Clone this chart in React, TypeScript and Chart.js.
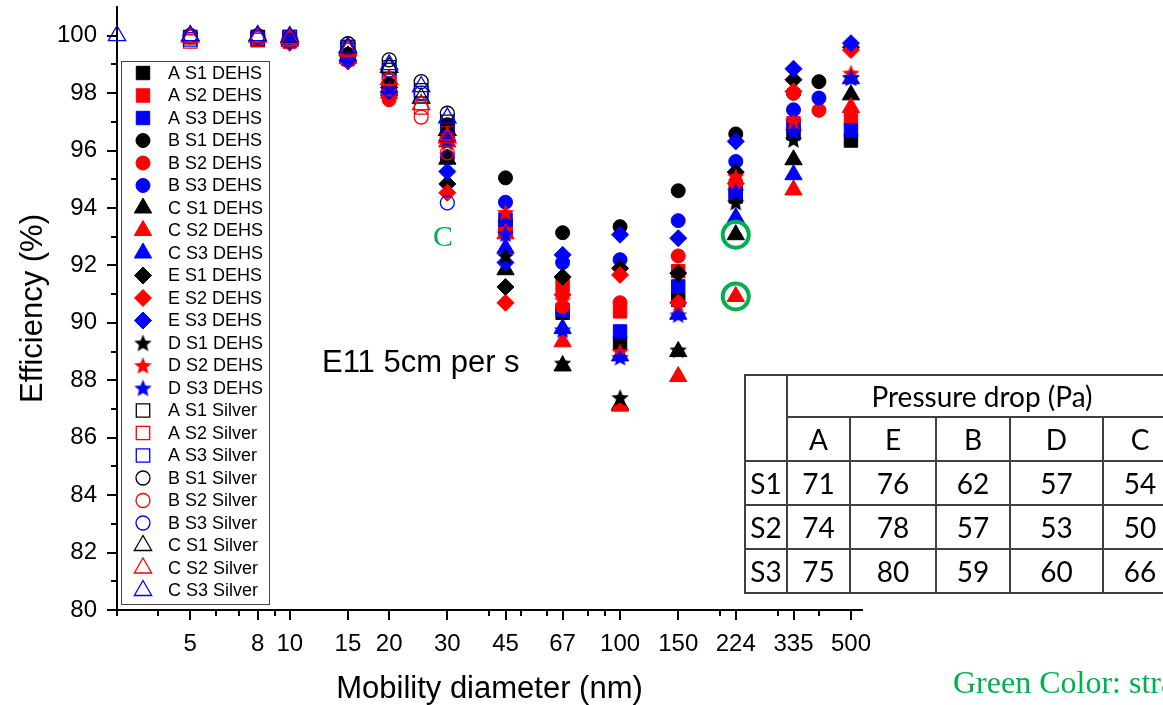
import React, { useEffect, useRef } from 'react';
import { Chart, registerables } from 'chart.js';
import { drawPoint } from 'chart.js/helpers';

Chart.register(...registerables);
Chart.defaults.font.family = "'Liberation Sans', Arial, sans-serif";

// ---- x categories (mobility diameter, nm) ----
const sizesDEHS = [10, 15, 20, 30, 45, 67, 100, 150, 224, 335, 500];
const sizesB = [10, 15, 20, 30, 45, 67, 100, 150, 224, 335, 400];
const sizesSilver = [3, 5, 8, 10, 15, 20, 25, 30];

// ---- DEHS series (efficiency %) ----
const aS1Dehs = [99.85, 99.3, 98.2, 96.6, 93.4, 90.35, 89.3, 90.8, 94.4, 96.6, 96.35];
const aS2Dehs = [99.8, 99.2, 98.1, 96.6, 93.2, 91.3, 90.4, 91.8, 94.6, 96.95, 97.1];
const aS3Dehs = [99.85, 99.25, 98.2, 96.8, 93.6, 90.45, 89.7, 91.27, 94.5, 96.85, 96.7];
const bS1Dehs = [99.85, 99.35, 98.3, 96.9, 95.05, 93.14, 93.35, 94.6, 96.58, 98.0, 98.4];
const bS2Dehs = [99.8, 99.2, 97.77, 95.8, 93.1, 90.56, 90.7, 92.33, 94.9, 98.0, 97.4];
const bS3Dehs = [99.85, 99.3, 98.1, 95.75, 94.2, 92.1, 92.2, 93.56, 95.62, 97.42, 97.83];
const cS1Dehs = [99.85, 99.3, 98.2, 95.7, 91.85, 88.5, 87.15, 89.0, 93.07, 95.68, 97.94];
const cS2Dehs = [99.8, 99.2, 98.0, 96.3, 93.1, 89.34, 87.1, 88.13, 90.92, 94.63, 97.5];
const cS3Dehs = [99.85, 99.25, 98.1, 96.5, 92.6, 89.8, 88.85, 90.3, 93.66, 95.16, 98.5];
const eS1Dehs = [99.85, 99.3, 98.2, 94.84, 91.25, 91.6, 91.9, 91.73, 95.25, 98.47, 99.6];
const eS2Dehs = [99.75, 99.1, 98.0, 94.53, 90.7, 90.98, 91.67, 90.7, 94.85, 98.06, 99.5];
const eS3Dehs = [99.8, 99.15, 98.06, 95.27, 92.1, 92.37, 93.07, 92.95, 96.32, 98.85, 99.74];
const dS1Dehs = [99.85, 99.3, 98.25, 96.3, 92.33, 88.6, 87.4, 89.06, 94.2, 96.38, 98.55];
const dS2Dehs = [99.8, 99.2, 98.1, 96.5, 93.85, 90.8, 89.0, 90.63, 95.1, 97.0, 98.7];
const dS3Dehs = [99.85, 99.2, 98.15, 96.4, 93.1, 89.76, 88.8, 90.28, 94.58, 96.67, 98.53];

// ---- Silver series (efficiency %) ----
const aS1Silver = [null, 99.95, 99.95, 99.95, 99.6, 98.9, 98.1, 97.0];
const aS2Silver = [null, 99.8, 99.85, 99.9, 99.5, 98.5, 97.5, 96.6];
const aS3Silver = [null, 99.87, 99.9, 99.95, 99.6, 98.8, 98.0, 96.85];
const bS1Silver = [null, 100, 100, 99.95, 99.72, 99.16, 98.4, 97.3];
const bS2Silver = [null, 99.95, 99.95, 99.9, 99.5, 98.5, 97.17, 95.92];
const bS3Silver = [null, 100, 99.95, 99.95, 99.6, 98.8, 98.0, 94.18];
const cS1Silver = [null, 100, 100, 99.95, 99.6, 98.9, 97.83, 96.7];
const cS2Silver = [null, 99.95, 99.95, 99.9, 99.5, 98.47, 97.6, 96.44];
const cS3Silver = [100, 100, 100, 99.97, 99.57, 98.99, 98.23, 97.14];

// ---- highlighted points (green rings) ----
const ringSizes = [224, 224];
const ringValues = [93.07, 90.92];

// ---- axis ticks ----
const xMajorTicks = [5, 8, 10, 15, 20, 30, 45, 67, 100, 150, 224, 335, 500];
const xMinorTicks = [3, 4, 6, 7, 9, 40, 50, 60, 80, 90, 200, 300, 400];
const yMajorTicks = [80, 82, 84, 86, 88, 90, 92, 94, 96, 98, 100];
const yMinorTicks = [81, 83, 85, 87, 89, 91, 93, 95, 97, 99];

// ---- table ----
const tableCols = ['A', 'E', 'B', 'D', 'C'];
const tableRows = ['S1', 'S2', 'S3'];
const pressureS1 = [71, 76, 62, 57, 54];
const pressureS2 = [74, 78, 57, 53, 50];
const pressureS3 = [75, 80, 59, 60, 66];

const BLACK = '#000000';
const RED = '#ff0000';
const BLUE = '#0000ff';
const GREEN = '#00b050';

type Shape = 'rect' | 'circle' | 'triangle' | 'rectRot' | 'star';

const seriesList: { label: string; sizes: number[]; values: (number | null)[]; shape: Shape; color: string; filled: boolean }[] = [
  { label: 'A S1 DEHS', sizes: sizesDEHS, values: aS1Dehs, shape: 'rect', color: BLACK, filled: true },
  { label: 'A S2 DEHS', sizes: sizesDEHS, values: aS2Dehs, shape: 'rect', color: RED, filled: true },
  { label: 'A S3 DEHS', sizes: sizesDEHS, values: aS3Dehs, shape: 'rect', color: BLUE, filled: true },
  { label: 'B S1 DEHS', sizes: sizesB, values: bS1Dehs, shape: 'circle', color: BLACK, filled: true },
  { label: 'B S2 DEHS', sizes: sizesB, values: bS2Dehs, shape: 'circle', color: RED, filled: true },
  { label: 'B S3 DEHS', sizes: sizesB, values: bS3Dehs, shape: 'circle', color: BLUE, filled: true },
  { label: 'C S1 DEHS', sizes: sizesDEHS, values: cS1Dehs, shape: 'triangle', color: BLACK, filled: true },
  { label: 'C S2 DEHS', sizes: sizesDEHS, values: cS2Dehs, shape: 'triangle', color: RED, filled: true },
  { label: 'C S3 DEHS', sizes: sizesDEHS, values: cS3Dehs, shape: 'triangle', color: BLUE, filled: true },
  { label: 'E S1 DEHS', sizes: sizesDEHS, values: eS1Dehs, shape: 'rectRot', color: BLACK, filled: true },
  { label: 'E S2 DEHS', sizes: sizesDEHS, values: eS2Dehs, shape: 'rectRot', color: RED, filled: true },
  { label: 'E S3 DEHS', sizes: sizesDEHS, values: eS3Dehs, shape: 'rectRot', color: BLUE, filled: true },
  { label: 'D S1 DEHS', sizes: sizesDEHS, values: dS1Dehs, shape: 'star', color: BLACK, filled: true },
  { label: 'D S2 DEHS', sizes: sizesDEHS, values: dS2Dehs, shape: 'star', color: RED, filled: true },
  { label: 'D S3 DEHS', sizes: sizesDEHS, values: dS3Dehs, shape: 'star', color: BLUE, filled: true },
  { label: 'A S1 Silver', sizes: sizesSilver, values: aS1Silver, shape: 'rect', color: BLACK, filled: false },
  { label: 'A S2 Silver', sizes: sizesSilver, values: aS2Silver, shape: 'rect', color: RED, filled: false },
  { label: 'A S3 Silver', sizes: sizesSilver, values: aS3Silver, shape: 'rect', color: BLUE, filled: false },
  { label: 'B S1 Silver', sizes: sizesSilver, values: bS1Silver, shape: 'circle', color: BLACK, filled: false },
  { label: 'B S2 Silver', sizes: sizesSilver, values: bS2Silver, shape: 'circle', color: RED, filled: false },
  { label: 'B S3 Silver', sizes: sizesSilver, values: bS3Silver, shape: 'circle', color: BLUE, filled: false },
  { label: 'C S1 Silver', sizes: sizesSilver, values: cS1Silver, shape: 'triangle', color: BLACK, filled: false },
  { label: 'C S2 Silver', sizes: sizesSilver, values: cS2Silver, shape: 'triangle', color: RED, filled: false },
  { label: 'C S3 Silver', sizes: sizesSilver, values: cS3Silver, shape: 'triangle', color: BLUE, filled: false },
];

const RADII: Record<string, number> = { rect: 9.5, circle: 7, triangle: 10, rectRot: 8.5 };

function makeStar(color: string, size: number): HTMLCanvasElement {
  const c = document.createElement('canvas');
  c.width = size;
  c.height = size;
  const ctx = c.getContext('2d')!;
  const cx = size / 2;
  const cy = size / 2 + 0.8;
  const R = size / 2 - 0.3;
  const r = R * 0.45;
  ctx.beginPath();
  for (let k = 0; k < 10; k++) {
    const ang = -Math.PI / 2 + (k * Math.PI) / 5;
    const rad = k % 2 === 0 ? R : r;
    ctx.lineTo(cx + rad * Math.cos(ang), cy + rad * Math.sin(ang));
  }
  ctx.closePath();
  ctx.fillStyle = color;
  ctx.fill();
  return c;
}

const SANS = "'Liberation Sans', Arial, sans-serif";
const SERIF = "'Liberation Serif', 'Times New Roman', serif";

export default function App() {
  const ref = useRef<HTMLCanvasElement>(null);

  useEffect(() => {
    document.body.style.margin = '0';
    const stars: Record<string, HTMLCanvasElement> = {
      [BLACK]: makeStar(BLACK, 19),
      [RED]: makeStar(RED, 19),
      [BLUE]: makeStar(BLUE, 19),
    };

    const datasets: any[] = seriesList.map((s, i) => {
      const pts: { x: number; y: number }[] = [];
      s.sizes.forEach((x, j) => {
        const v = s.values[j];
        if (v !== null && v !== undefined) pts.push({ x, y: v });
      });
      return {
        label: s.label,
        data: pts,
        showLine: false,
        clip: false,
        pointStyle: s.shape === 'star' ? stars[s.color] : s.shape,
        pointRadius: s.shape === 'star' ? 9 : RADII[s.shape],
        pointBackgroundColor: s.filled ? s.color : 'rgba(0,0,0,0)',
        pointBorderColor: s.color,
        pointBorderWidth: s.filled ? 1 : 1.3,
        order: 100 - i,
      };
    });
    datasets.push({
      label: 'highlight',
      data: ringSizes.map((x, i) => ({ x, y: ringValues[i] })),
      showLine: false,
      clip: false,
      pointStyle: 'circle',
      pointRadius: 13,
      pointBackgroundColor: 'rgba(0,0,0,0)',
      pointBorderColor: GREEN,
      pointBorderWidth: 4,
      order: 0,
    });

    const decor = {
      id: 'decor',
      beforeDatasetsDraw(chart: any) {
        const ctx = chart.ctx as CanvasRenderingContext2D;
        ctx.save();
        // legend box (under the data)
        ctx.fillStyle = '#fff';
        ctx.fillRect(121, 61, 148, 543);
        ctx.strokeStyle = '#444';
        ctx.lineWidth = 1;
        ctx.strokeRect(121.5, 61.5, 148, 543);
        ctx.font = `18px ${SANS}`;
        ctx.textAlign = 'left';
        ctx.textBaseline = 'middle';
        chart.data.datasets.forEach((ds: any, i: number) => {
          if (i >= seriesList.length) return;
          const y = 73 + i * 22.5;
          ctx.save();
          ctx.fillStyle = ds.pointBackgroundColor;
          ctx.strokeStyle = ds.pointBorderColor;
          ctx.lineWidth = ds.pointBorderWidth;
          drawPoint(ctx, { pointStyle: ds.pointStyle, radius: ds.pointRadius, borderWidth: ds.pointBorderWidth, rotation: 0 } as any, 143, y);
          ctx.restore();
          ctx.fillStyle = '#000';
          ctx.fillText(ds.label, 168, y + 1);
        });
        ctx.restore();
      },
      afterDraw(chart: any) {
        const ctx = chart.ctx as CanvasRenderingContext2D;
        const xs = chart.scales.x;
        const ys = chart.scales.y;
        const area = chart.chartArea;
        ctx.save();
        // tick marks
        ctx.strokeStyle = '#000';
        ctx.lineWidth = 2;
        ctx.beginPath();
        xs.ticks.forEach((t: any) => {
          const px = Math.round(xs.getPixelForValue(t.value));
          const len = xMajorTicks.includes(t.value) ? 10 : 6;
          ctx.moveTo(px, area.bottom);
          ctx.lineTo(px, area.bottom + len);
        });
        ys.ticks.forEach((t: any) => {
          const py = Math.round(ys.getPixelForValue(t.value));
          const len = yMajorTicks.includes(t.value) ? 10 : 6;
          ctx.moveTo(area.left, py);
          ctx.lineTo(area.left - len, py);
        });
        ctx.stroke();

        // axis titles
        ctx.fillStyle = '#000';
        ctx.font = `31px ${SANS}`;
        ctx.textAlign = 'center';
        ctx.textBaseline = 'alphabetic';
        ctx.fillText('Mobility diameter (nm)', (area.left + area.right) / 2, 698);
        ctx.save();
        ctx.translate(42, (area.top + area.bottom) / 2);
        ctx.rotate(-Math.PI / 2);
        ctx.fillText('Efficiency (%)', 0, 0);
        ctx.restore();

        // annotations
        ctx.font = `31px ${SANS}`;
        ctx.textBaseline = 'alphabetic';
        ctx.textAlign = 'left';
        ctx.fillStyle = '#000';
        ctx.fillText('E11 5cm per s', 322, 372);
        ctx.fillStyle = GREEN;
        ctx.font = `30px ${SERIF}`;
        ctx.fillText('C', 433, 246);
        ctx.font = `32px ${SERIF}`;
        ctx.fillText('Green Color: straight', 953, 693);
        ctx.restore();
      },
    };

    const chart = new Chart(ref.current!, {
      type: 'scatter',
      data: { datasets },
      options: {
        responsive: false,
        animation: false,
        events: [],
        layout: { autoPadding: false, padding: { top: 7, right: 301, left: 0, bottom: 0 } },
        plugins: { legend: { display: false }, tooltip: { enabled: false } },
        scales: {
          x: {
            type: 'logarithmic',
            min: 3,
            max: 540,
            afterBuildTicks: (scale: any) => {
              scale.ticks = [...xMinorTicks, ...xMajorTicks].sort((a, b) => a - b).map((v) => ({ value: v }));
            },
            afterFit: (scale: any) => {
              scale.height = 95;
              scale.paddingLeft = 0;
              scale.paddingRight = 0;
            },
            ticks: {
              autoSkip: false,
              maxRotation: 0,
              minRotation: 0,
              padding: 20,
              color: '#000',
              font: { size: 24 },
              callback: (v: any) => (xMajorTicks.includes(Number(v)) ? String(v) : ''),
            },
            grid: { display: true, drawOnChartArea: false, drawTicks: false },
            border: { display: true, color: '#000', width: 2 },
          },
          y: {
            type: 'linear',
            min: 80,
            max: 101,
            afterBuildTicks: (scale: any) => {
              scale.ticks = [...yMinorTicks, ...yMajorTicks].sort((a, b) => a - b).map((v) => ({ value: v }));
            },
            afterFit: (scale: any) => {
              scale.width = 117;
              scale.paddingTop = 0;
              scale.paddingBottom = 0;
            },
            ticks: {
              autoSkip: false,
              padding: 20,
              color: '#000',
              font: { size: 24 },
              callback: (v: any) => (yMajorTicks.includes(Number(v)) ? String(v) : ''),
            },
            grid: { display: true, drawOnChartArea: false, drawTicks: false },
            border: { display: true, color: '#000', width: 2 },
          },
        },
      } as any,
      plugins: [decor],
    });
    return () => chart.destroy();
  }, []);

  const cell: React.CSSProperties = {
    border: '2px solid #404040',
    padding: 0,
    textAlign: 'center',
    verticalAlign: 'middle',
    lineHeight: 1,
  };
  const colWidths = [42, 63, 86, 74, 93, 74];
  const tableValues = [pressureS1, pressureS2, pressureS3];

  return (
    <div style={{ position: 'fixed', left: 0, top: 0, width: 1163, height: 705, overflow: 'hidden', background: '#fff' }}>
      <canvas ref={ref} width={1163} height={705} style={{ position: 'absolute', left: 0, top: 0 }} />
      <table
        style={{
          position: 'absolute',
          left: 744,
          top: 374,
          borderCollapse: 'collapse',
          tableLayout: 'fixed',
          width: colWidths.reduce((a, b) => a + b, 0),
          fontFamily: "Lato, 'Open Sans', sans-serif",
          fontSize: 28,
          color: '#000',
        }}
      >
        <colgroup>
          {colWidths.map((w, i) => (
            <col key={i} style={{ width: w }} />
          ))}
        </colgroup>
        <tbody>
          <tr style={{ height: 42 }}>
            <td rowSpan={2} style={cell}></td>
            <td colSpan={5} style={cell}>Pressure drop (Pa)</td>
          </tr>
          <tr style={{ height: 44 }}>
            {tableCols.map((c) => (
              <td key={c} style={cell}>{c}</td>
            ))}
          </tr>
          {tableRows.map((r, i) => (
            <tr key={r} style={{ height: 44 }}>
              <td style={cell}>{r}</td>
              {tableValues[i].map((v, j) => (
                <td key={j} style={cell}>{v}</td>
              ))}
            </tr>
          ))}
        </tbody>
      </table>
    </div>
  );
}
